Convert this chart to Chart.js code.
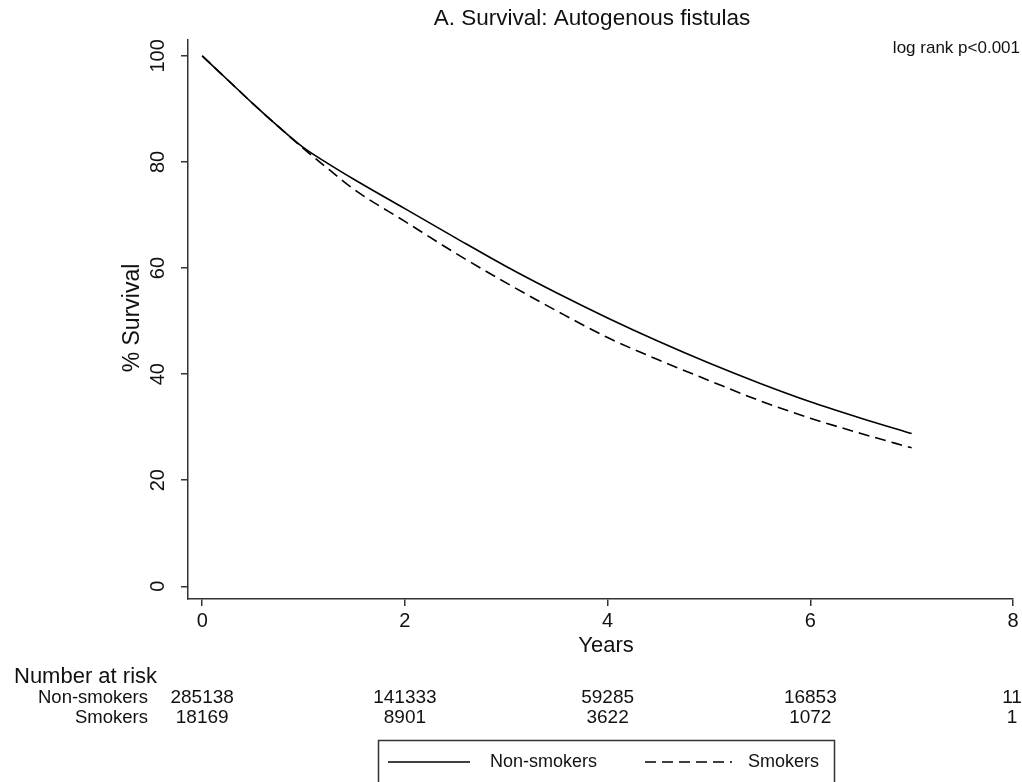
<!DOCTYPE html>
<html lang="en">

<head>
    <meta charset="UTF-8">
    <title>A. Survival: Autogenous fistulas</title>
    <script src="https://cdn.jsdelivr.net/npm/chart.js@4"></script>
    <style>
        html, body {
            margin: 0;
            padding: 0;
            background: #fff;
        }
        #chart {
            display: block;
        }
    </style>
</head>

<body>
    <canvas id="chart" width="1022" height="782"></canvas>
    <script>
        // survival (years -> % surviving)
        const years = [0, 0.25, 0.5, 0.75, 1, 1.25, 1.5, 2, 2.5, 3, 3.5, 4, 4.5, 5, 5.5, 6, 6.5, 7];
        const nonSmokers = [100, 95.5, 91.0, 86.7, 82.7, 79.6, 76.7, 71.2, 65.7, 60.3, 55.3, 50.6, 46.2, 42.1, 38.3, 34.8, 31.7, 28.8];
        const smokers = [100, 95.5, 91.0, 86.7, 82.5, 78.6, 74.8, 68.8, 62.8, 57.2, 51.9, 46.9, 42.7, 38.8, 35.0, 31.7, 28.8, 26.1];

        const xTicks = [0, 2, 4, 6, 8];
        const yTicks = [0, 20, 40, 60, 80, 100];

        // number at risk table
        const riskTimes = [0, 2, 4, 6, 8];
        const riskNonSmokers = ['285138', '141333', '59285', '16853', '11'];
        const riskSmokers = ['18169', '8901', '3622', '1072', '1'];

        const FONT = '"Liberation Sans", Arial, sans-serif';
        const INK = '#111';

        const toPoints = (xs, ys) => xs.map((x, i) => ({ x: x, y: ys[i] }));

        const extras = {
            id: 'extras',
            afterDraw(chart) {
                const ctx = chart.ctx;
                const xs = chart.scales.x;
                const ys = chart.scales.y;
                ctx.save();
                ctx.fillStyle = INK;

                // title + test result
                ctx.font = '22.5px ' + FONT;
                ctx.textAlign = 'center';
                ctx.textBaseline = 'middle';
                ctx.fillText('A. Survival: Autogenous fistulas', 592, 19);
                ctx.font = '17px ' + FONT;
                ctx.textAlign = 'right';
                ctx.fillText('log rank p<0.001', 1020, 48);

                // rotated y tick labels
                ctx.font = '20px ' + FONT;
                ctx.textAlign = 'center';
                yTicks.forEach(v => {
                    ctx.save();
                    ctx.translate(158, ys.getPixelForValue(v));
                    ctx.rotate(-Math.PI / 2);
                    ctx.fillText(String(v), 0, 0);
                    ctx.restore();
                });

                // y title
                ctx.save();
                ctx.font = '23px ' + FONT;
                ctx.translate(133, 318);
                ctx.rotate(-Math.PI / 2);
                ctx.fillText('% Survival', 0, 0);
                ctx.restore();

                // x title
                ctx.font = '22px ' + FONT;
                ctx.fillText('Years', 606, 646);

                // number at risk
                ctx.font = '22px ' + FONT;
                ctx.textAlign = 'left';
                ctx.fillText('Number at risk', 14, 677);
                ctx.font = '18.5px ' + FONT;
                ctx.textAlign = 'right';
                ctx.fillText('Non-smokers', 148, 698);
                ctx.fillText('Smokers', 148, 718);
                ctx.font = '19px ' + FONT;
                ctx.textAlign = 'center';
                riskTimes.forEach((t, i) => {
                    let px = xs.getPixelForValue(t);
                    if (t === 8) px = 1012;
                    ctx.fillText(riskNonSmokers[i], px, 698);
                    ctx.fillText(riskSmokers[i], px, 718);
                });

                // legend box
                ctx.strokeStyle = '#333';
                ctx.lineWidth = 1.5;
                ctx.strokeRect(378.5, 740.5, 456, 60);
                const items = chart.data.datasets;
                const slots = [[388, 470, 490], [645, 732, 748]];
                ctx.font = '18px ' + FONT;
                ctx.textAlign = 'left';
                items.forEach((ds, i) => {
                    const s = slots[i];
                    ctx.beginPath();
                    ctx.setLineDash(ds.borderDash || []);
                    ctx.strokeStyle = ds.borderColor;
                    ctx.lineWidth = ds.borderWidth;
                    ctx.moveTo(s[0], 762);
                    ctx.lineTo(s[1], 762);
                    ctx.stroke();
                    ctx.setLineDash([]);
                    ctx.fillText(ds.label, s[2], 762);
                });
                ctx.restore();
            }
        };

        new Chart(document.getElementById('chart'), {
            type: 'line',
            data: {
                datasets: [{
                    label: 'Non-smokers',
                    data: toPoints(years, nonSmokers),
                    borderColor: '#000',
                    borderWidth: 1.6,
                    pointRadius: 0,
                    cubicInterpolationMode: 'monotone'
                }, {
                    label: 'Smokers',
                    data: toPoints(years, smokers),
                    borderColor: '#000',
                    borderWidth: 1.6,
                    borderDash: [11, 6],
                    pointRadius: 0,
                    cubicInterpolationMode: 'monotone'
                }]
            },
            options: {
                responsive: false,
                animation: false,
                layout: {
                    padding: { top: 40, right: 9, bottom: 123, left: 0 }
                },
                scales: {
                    x: {
                        type: 'linear',
                        min: -0.14,
                        max: 8,
                        afterBuildTicks: (scale) => {
                            scale.ticks = xTicks.map(v => ({ value: v }));
                        },
                        afterFit: (scale) => {
                            scale.height = 60;
                        },
                        ticks: {
                            color: INK,
                            font: { family: FONT, size: 20 },
                            padding: 3,
                            maxRotation: 0
                        },
                        grid: {
                            drawOnChartArea: false,
                            tickLength: 7,
                            color: '#333',
                            lineWidth: 1.5
                        },
                        border: { color: '#333', width: 1.5 }
                    },
                    y: {
                        min: -2.4,
                        max: 103,
                        afterBuildTicks: (scale) => {
                            scale.ticks = yTicks.map(v => ({ value: v }));
                        },
                        afterFit: (scale) => {
                            scale.width = 188;
                        },
                        ticks: { display: false },
                        grid: {
                            drawOnChartArea: false,
                            tickLength: 7,
                            color: '#333',
                            lineWidth: 1.5
                        },
                        border: { color: '#333', width: 1.5 }
                    }
                },
                plugins: {
                    legend: { display: false },
                    title: { display: false },
                    tooltip: { enabled: false }
                }
            },
            plugins: [extras]
        });
    </script>
</body>

</html>
